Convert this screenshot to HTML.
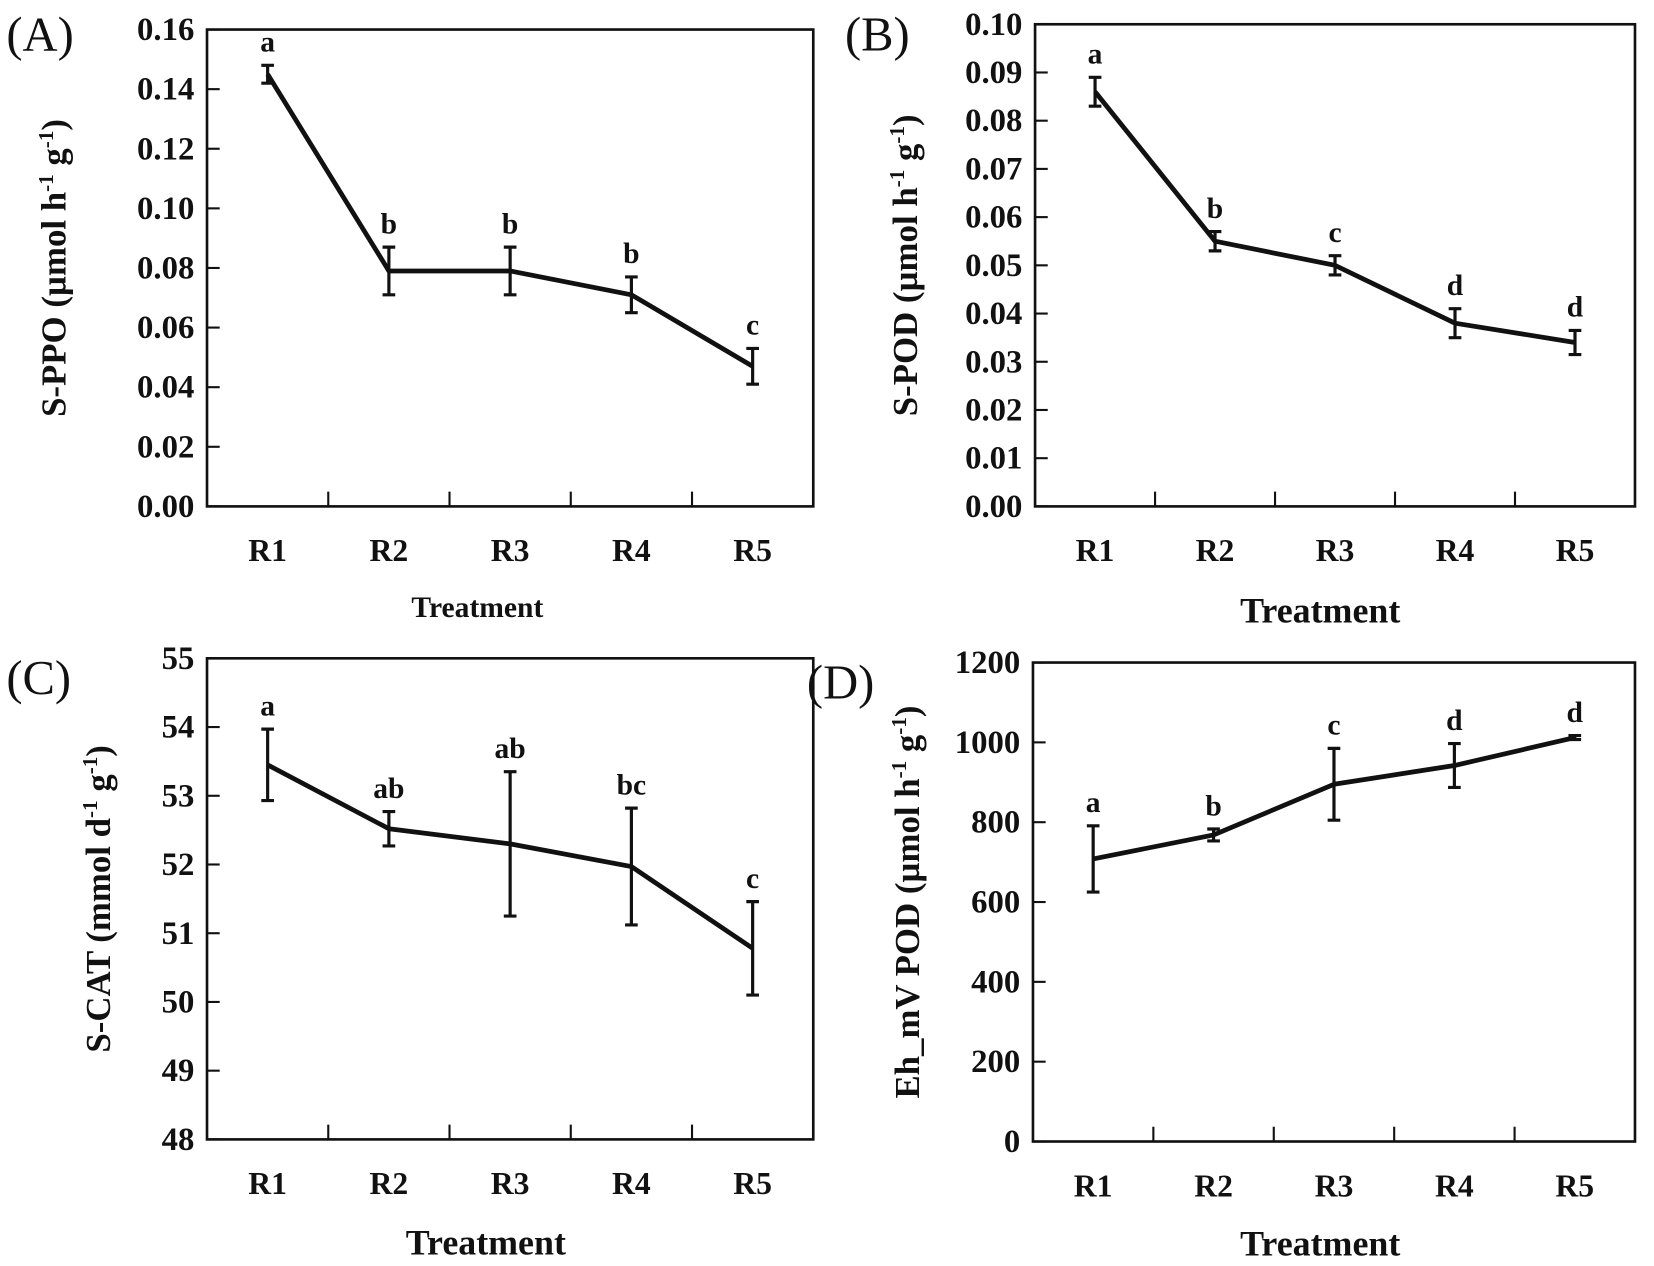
<!DOCTYPE html>
<html><head><meta charset="utf-8"><style>
html,body{margin:0;padding:0;background:#fff;}
svg{display:block;}
text{font-family:"Liberation Serif",serif;fill:#111;}
</style></head><body>
<svg id="fig" width="1654" height="1266" viewBox="0 0 1566 1200" preserveAspectRatio="none" xmlns="http://www.w3.org/2000/svg"></svg>
<script>
const categories = ["R1","R2","R3","R4","R5"];
const valsA = [0.145,0.079,0.079,0.071,0.047];
const errA = [0.003,0.008,0.008,0.006,0.006];
const lettersA = ["a","b","b","b","c"];
const ticksA = [0,0.02,0.04,0.06,0.08,0.10,0.12,0.14,0.16];
const valsB = [0.086,0.055,0.050,0.038,0.034];
const errB = [0.003,0.002,0.002,0.003,0.0025];
const lettersB = ["a","b","c","d","d"];
const ticksB = [0,0.01,0.02,0.03,0.04,0.05,0.06,0.07,0.08,0.09,0.10];
const valsC = [53.45,52.52,52.3,51.97,50.78];
const errC = [0.52,0.25,1.05,0.85,0.68];
const lettersC = ["a","ab","ab","bc","c"];
const ticksC = [48,49,50,51,52,53,54,55];
const valsD = [708,768,895,942,1012];
const errD = [83,15,90,55,5];
const lettersD = ["a","b","c","d","d"];
const ticksD = [0,200,400,600,800,1000,1200];

const NS = "http://www.w3.org/2000/svg";
const svg = document.getElementById("fig");
function mk(tag, attrs, parent){
  const e = document.createElementNS(NS, tag);
  for (const k in attrs) e.setAttribute(k, attrs[k]);
  (parent||svg).appendChild(e);
  return e;
}
function panel(cfg){
  const g = mk("g", {});
  
  
  const {L,R,T,B,ticks,vals,errs,letters,fmt} = cfg;
  const min = ticks[0], max = ticks[ticks.length-1];
  const y = v => B - (v-min)/(max-min)*(B-T);
  const w = (R-L)/categories.length;
  const x = i => L + w*(i+0.5);
  const frame = mk("rect", {x:L,y:T,width:R-L,height:B-T,fill:"none",stroke:"#111","stroke-width":2.5}, g);
  
  
  ticks.forEach(t => {
    mk("line", {x1:L,x2:L+12,y1:y(t),y2:y(t),stroke:"#111","stroke-width":2}, g);
    const tl = mk("text", {x:L-12,y:y(t)+10,"text-anchor":"end","font-size":31,"font-weight":"bold"}, g);
    tl.textContent = fmt(t);
    
    
  });
  for (let i=1;i<categories.length;i++){
    mk("line", {x1:L+w*i,x2:L+w*i,y1:B,y2:B-14,stroke:"#111","stroke-width":2}, g);
  }
  categories.forEach((c,i) => {
    const cl = mk("text", {x:x(i),y:B+52,"text-anchor":"middle","font-size":30,"font-weight":"bold"}, g);
    cl.textContent = c;
    
    
  });
  const xt = mk("text", {x:cfg.xtX,y:cfg.xtY,"text-anchor":"middle","font-size":cfg.xtSize,"font-weight":"bold"}, g);
  xt.textContent = "Treatment";
  
  
  const yt = mk("text", {transform:`translate(${cfg.ytX},${(T+B)/2}) rotate(-90)`,"text-anchor":"middle","font-size":33,"font-weight":"bold"}, g);
  
  
  cfg.ytParts.forEach(p => {
    const ts = mk("tspan", p.sup ? {"font-size":20,dy:-12} : (p.after ? {dy:12} : {}), yt);
    ts.textContent = p.t;
  });
  const pl = mk("text", {x:cfg.plX,y:cfg.plY,"font-size":46}, g);
  pl.textContent = cfg.label;
  
  
  const pts = vals.map((v,i)=>`${x(i)},${y(v)}`).join(" ");
  const line = mk("polyline", {points:pts,fill:"none",stroke:"#111","stroke-width":4.5,"stroke-linejoin":"round"}, g);
  
  
  vals.forEach((v,i) => {
    const top = y(v+errs[i]), bot = y(v-errs[i]);
    const eb = mk("path", {d:`M${x(i)},${top}V${bot}M${x(i)-6},${top}H${x(i)+6}M${x(i)-6},${bot}H${x(i)+6}`,stroke:"#111","stroke-width":3,fill:"none"}, g);
    
    
    const lt = mk("text", {x:x(i),y:top-13,"text-anchor":"middle","font-size":28,"font-weight":"bold"}, g);
    lt.textContent = letters[i];
    
    
  });
}
const unitH = [{t:" (µmol h"},{t:"-1",sup:true},{t:" g",after:true},{t:"-1",sup:true},{t:")",after:true}];
panel({name:"panel-a",L:196,R:770,T:28,B:480,ticks:ticksA,vals:valsA,errs:errA,letters:lettersA,fmt:t=>t.toFixed(2),
  xtX:452,xtY:585,xtSize:28,ytX:62,ytParts:[{t:"S-PPO"}].concat(unitH),label:"(A)",plX:6,plY:48});
panel({name:"panel-b",L:980,R:1548,T:23,B:480,ticks:ticksB,vals:valsB,errs:errB,letters:lettersB,fmt:t=>t.toFixed(2),
  xtX:1250,xtY:590,xtSize:34,ytX:868,ytParts:[{t:"S-POD"}].concat(unitH),label:"(B)",plX:800,plY:48});
panel({name:"panel-c",L:196,R:770,T:624,B:1080,ticks:ticksC,vals:valsC,errs:errC,letters:lettersC,fmt:t=>String(t),
  xtX:460,xtY:1189,xtSize:34,ytX:104,ytParts:[{t:"S-CAT (mmol d"},{t:"-1",sup:true},{t:" g",after:true},{t:"-1",sup:true},{t:")",after:true}],label:"(C)",plX:6,plY:658});
panel({name:"panel-d",L:978,R:1548,T:628,B:1082,ticks:ticksD,vals:valsD,errs:errD,letters:lettersD,fmt:t=>String(t),
  xtX:1250,xtY:1190,xtSize:34,ytX:870,ytParts:[{t:"Eh_mV POD"}].concat(unitH),label:"(D)",plX:764,plY:662});
</script>
</body></html>
